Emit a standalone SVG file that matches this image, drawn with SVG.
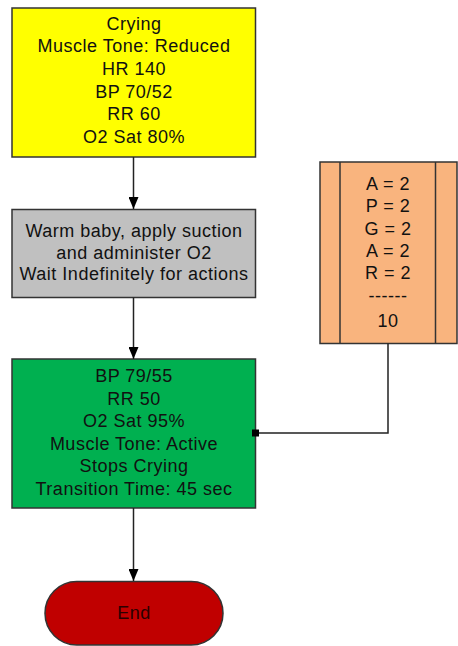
<svg xmlns="http://www.w3.org/2000/svg" width="458" height="646" viewBox="0 0 458 646">
<style>
.box{stroke:#333;stroke-width:1.5}
.t{font-family:"Liberation Sans",Arial,sans-serif;font-size:18px;fill:#111;text-anchor:middle;letter-spacing:0.5px}
.c{stroke:#222;stroke-width:1.5;fill:none}
</style>
<defs>
<marker id="ah" markerWidth="12" markerHeight="10" refX="12" refY="5" orient="auto" markerUnits="userSpaceOnUse" viewBox="0 0 12 10">
<path d="M0,0 L12,5 L0,10 Z" fill="#000"/>
</marker>
</defs>
<rect width="458" height="646" fill="#fff"/>
<g id="crying">
<rect class="box" x="12" y="8" width="243.5" height="149" fill="#FFFF00"/>
<text class="t" x="134" y="29.5">Crying</text>
<text class="t" x="134" y="52.2">Muscle Tone: Reduced</text>
<text class="t" x="134" y="74.9">HR 140</text>
<text class="t" x="134" y="97.6">BP 70/52</text>
<text class="t" x="134" y="120.3">RR 60</text>
<text class="t" x="134" y="143">O2 Sat 80%</text>
</g>
<g id="warm">
<rect class="box" x="12" y="209.5" width="243.5" height="88" fill="#C0C0C0"/>
<text class="t" x="134" y="237">Warm baby, apply suction</text>
<text class="t" x="134" y="258.7">and administer O2</text>
<text class="t" x="134" y="280.4">Wait Indefinitely for actions</text>
</g>
<g id="stable">
<rect class="box" x="12" y="359" width="243.5" height="149" fill="#00B050"/>
<text class="t" x="134" y="382">BP 79/55</text>
<text class="t" x="134" y="404.5">RR 50</text>
<text class="t" x="134" y="427">O2 Sat 95%</text>
<text class="t" x="134" y="449.5">Muscle Tone: Active</text>
<text class="t" x="134" y="472">Stops Crying</text>
<text class="t" x="134" y="494.5">Transition Time: 45 sec</text>
</g>
<g id="apgar">
<rect class="box" x="320" y="162" width="137" height="181.5" fill="#F9B47E"/>
<line class="box" x1="340" y1="162" x2="340" y2="343.5"/>
<line class="box" x1="435.5" y1="162" x2="435.5" y2="343.5"/>
<text class="t" x="388" y="190">A = 2</text>
<text class="t" x="388" y="212.3">P = 2</text>
<text class="t" x="388" y="234.6">G = 2</text>
<text class="t" x="388" y="256.9">A = 2</text>
<text class="t" x="388" y="279.2">R = 2</text>
<text class="t" x="388" y="301.5">------</text>
<text class="t" x="388" y="327">10</text>
</g>
<g id="end">
<rect class="box" x="45" y="581.5" width="178" height="63.5" rx="31.75" fill="#C00000"/>
<text class="t" x="134" y="619" style="fill:#2a0000">End</text>
</g>
<g id="connectors">
<path class="c" d="M133.5,157 V209" marker-end="url(#ah)"/>
<path class="c" d="M133.5,297.5 V359" marker-end="url(#ah)"/>
<path class="c" d="M133.5,508 V581" marker-end="url(#ah)"/>
<path class="c" d="M388,343.5 V433 H256"/>
<rect x="252" y="429.5" width="7" height="7" fill="#000"/>
</g>
</svg>
